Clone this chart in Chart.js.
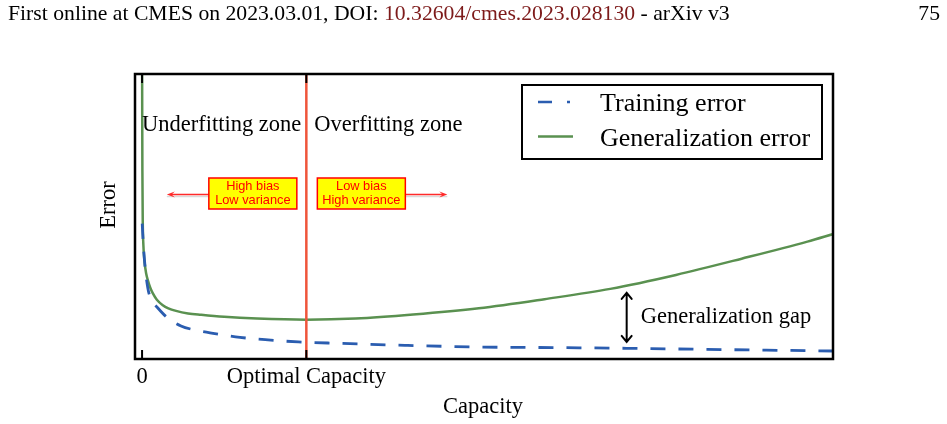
<!DOCTYPE html>
<html>
<head>
<meta charset="utf-8">
<script src="https://cdn.jsdelivr.net/npm/chart.js@4.4.0/dist/chart.umd.min.js"></script>
<style>
  html, body { margin: 0; padding: 0; background: #fff; }
  #wrap { position: relative; width: 947px; height: 424px; overflow: hidden; }
  #head { position: absolute; left: 8px; top: 1px; font: 21.7px 'Liberation Serif', serif; color: #000; white-space: nowrap; }
  #head .doi { color: #7d1a1a; }
  #page { position: absolute; right: 7px; top: 1px; font: 21.7px 'Liberation Serif', serif; color: #000; }
  canvas { position: absolute; left: 0; top: 0; }
</style>
</head>
<body>
<div id="wrap">
  <canvas id="myChart" width="947" height="424"></canvas>
  <div id="head">First online at CMES on 2023.03.01, DOI: <span class="doi">10.32604/cmes.2023.028130</span> - arXiv v3</div>
  <div id="page">75</div>
</div>
<script>
// values (capacity on x, error on y)
const genCap   = [0, 0.01, 0.02, 0.04, 0.08, 0.14, 0.25, 0.35, 0.5, 0.65, 0.9, 1.26, 1.6, 2.07, 2.8, 3.6, 5, 7, 10, 13, 16.5, 20.5, 24.5, 28.5, 32.5, 36.5, 40.5, 42.1];
const genErr   = [11, 8.5, 6.6, 4.9, 4.0, 3.47, 3.0, 2.77, 2.5, 2.31, 2.08, 1.89, 1.78, 1.69, 1.6, 1.55, 1.48, 1.42, 1.38, 1.42, 1.56, 1.78, 2.1, 2.46, 2.95, 3.52, 4.12, 4.39];
const trainCap = [0.01, 0.04, 0.14, 0.35, 0.6, 0.96, 1.56, 2.37, 3.18, 4.14, 5.96, 7.67, 9.51, 12, 16, 20.5, 25, 29.5, 34, 38, 42.1];
const trainErr = [4.75, 4.4, 3.51, 2.49, 2.05, 1.79, 1.44, 1.16, 1.02, 0.92, 0.76, 0.67, 0.60, 0.55, 0.48, 0.42, 0.4, 0.375, 0.34, 0.31, 0.28];
const tickCaps   = [0, 10];
const tickLabels = ['0', 'Optimal Capacity'];
const seriesNames = ['Training error', 'Generalization error'];

const optimalCapacity = tickCaps[1];
const serif = "'Liberation Serif', serif";

function toPoints(xs, ys) {
    return xs.map((v, i) => ({ x: v, y: ys[i] }));
}

function arrowHead(ctx, x, y, dir, len, half) {
    // dir: -1 left, 1 right
    ctx.beginPath();
    ctx.moveTo(x, y);
    ctx.lineTo(x - dir * len, y - half);
    ctx.lineTo(x - dir * len * 0.6, y);
    ctx.lineTo(x - dir * len, y + half);
    ctx.closePath();
    ctx.fill();
}

const decorations = {
    id: 'decorations',
    afterDatasetsDraw(chart) {
        const { ctx, chartArea: a, scales: { x, y } } = chart;
        const optPx = x.getPixelForValue(optimalCapacity);
        ctx.save();

        // optimal capacity line
        ctx.strokeStyle = '#ef553b';
        ctx.lineWidth = 2.5;
        ctx.beginPath();
        ctx.moveTo(optPx, a.top);
        ctx.lineTo(optPx, a.bottom);
        ctx.stroke();

        // inner ticks (top and bottom)
        ctx.strokeStyle = '#000';
        ctx.lineWidth = 2;
        tickCaps.forEach(c => {
            const px = x.getPixelForValue(c);
            ctx.beginPath();
            ctx.moveTo(px, a.bottom);
            ctx.lineTo(px, a.bottom - 9);
            ctx.moveTo(px, a.top);
            ctx.lineTo(px, a.top + 9);
            ctx.stroke();
        });

        // tick labels
        ctx.fillStyle = '#000';
        ctx.font = '22.5px ' + serif;
        ctx.textAlign = 'center';
        ctx.textBaseline = 'alphabetic';
        tickCaps.forEach((c, i) => {
            ctx.fillText(tickLabels[i], x.getPixelForValue(c), a.bottom + 24);
        });

        // axis titles
        ctx.fillText('Capacity', (a.left + a.right) / 2 - 1, a.bottom + 54);
        ctx.save();
        ctx.translate(a.left - 20, y.getPixelForValue(5.4));
        ctx.rotate(-Math.PI / 2);
        ctx.fillText('Error', 0, 0);
        ctx.restore();

        // zone labels
        ctx.textAlign = 'right';
        ctx.fillText('Underfitting zone', optPx - 5, a.top + 57);
        ctx.textAlign = 'left';
        ctx.fillText('Overfitting zone', optPx + 8, a.top + 57);

        // yellow boxes with arrows
        const boxTop = a.top + 104, boxH = 31, boxW = 88;
        const boxes = [
            { left: optPx - 9.5 - boxW, lines: ['High bias', 'Low variance'], dir: -1 },
            { left: optPx + 11, lines: ['Low bias', 'High variance'], dir: 1 }
        ];
        boxes.forEach(b => {
            const midY = boxTop + boxH / 2 + 1;
            const start = b.dir < 0 ? b.left : b.left + boxW;
            const tip = start + b.dir * 42;
            // soft shadow
            ctx.strokeStyle = 'rgba(0,0,0,0.15)';
            ctx.lineWidth = 1.5;
            ctx.beginPath();
            ctx.moveTo(start, midY + 2);
            ctx.lineTo(tip, midY + 2);
            ctx.stroke();
            ctx.strokeStyle = '#ff2a2a';
            ctx.fillStyle = '#ff2a2a';
            ctx.beginPath();
            ctx.moveTo(start, midY);
            ctx.lineTo(tip - b.dir * 4, midY);
            ctx.stroke();
            arrowHead(ctx, tip, midY, b.dir, 8, 3);

            ctx.fillStyle = '#ffff00';
            ctx.fillRect(b.left, boxTop, boxW, boxH);
            ctx.strokeStyle = '#ff0000';
            ctx.lineWidth = 1.5;
            ctx.strokeRect(b.left, boxTop, boxW, boxH);
            ctx.fillStyle = '#ff0000';
            ctx.font = "12.8px 'Liberation Sans', Arial, sans-serif";
            ctx.textAlign = 'center';
            ctx.textBaseline = 'middle';
            ctx.fillText(b.lines[0], b.left + boxW / 2, boxTop + 8.5);
            ctx.fillText(b.lines[1], b.left + boxW / 2, boxTop + 22.5);
        });

        // generalization gap arrow
        const gx = x.getPixelForValue(29.5);
        const gTop = y.getPixelForValue(2.32), gBot = y.getPixelForValue(0.6);
        ctx.strokeStyle = '#000';
        ctx.lineWidth = 2;
        ctx.lineCap = 'round';
        ctx.beginPath();
        ctx.moveTo(gx, gTop);
        ctx.lineTo(gx, gBot);
        ctx.moveTo(gx - 5, gTop + 6);
        ctx.lineTo(gx, gTop);
        ctx.lineTo(gx + 5, gTop + 6);
        ctx.moveTo(gx - 5, gBot - 6);
        ctx.lineTo(gx, gBot);
        ctx.lineTo(gx + 5, gBot - 6);
        ctx.stroke();
        ctx.fillStyle = '#000';
        ctx.font = '22.5px ' + serif;
        ctx.textAlign = 'left';
        ctx.textBaseline = 'alphabetic';
        ctx.fillText('Generalization gap', gx + 14, (gTop + gBot) / 2 + 6);

        // legend
        const lx = a.right - 311, ly = a.top + 11, lw = 300, lh = 74;
        ctx.fillStyle = '#fff';
        ctx.fillRect(lx, ly, lw, lh);
        ctx.strokeStyle = '#000';
        ctx.lineWidth = 2;
        ctx.lineCap = 'butt';
        ctx.strokeRect(lx, ly, lw, lh);
        chart.data.datasets.forEach((ds, i) => {
            const rowY = ly + (i === 0 ? 17 : 51.5);
            ctx.strokeStyle = ds.borderColor;
            ctx.lineWidth = 2.5;
            ctx.setLineDash(i === 0 ? [14, 15, 3, 100] : []);
            ctx.beginPath();
            ctx.moveTo(lx + 16, rowY);
            ctx.lineTo(lx + 51, rowY);
            ctx.stroke();
            ctx.setLineDash([]);
            ctx.fillStyle = '#000';
            ctx.font = '26px ' + serif;
            ctx.fillText(ds.label, lx + 78, rowY + 9);
        });

        // frame
        ctx.strokeStyle = '#000';
        ctx.lineWidth = 2.5;
        ctx.strokeRect(a.left, a.top, a.right - a.left, a.bottom - a.top);
        ctx.restore();
    }
};

const chartData = {
    datasets: [
        {
            label: seriesNames[0],
            data: toPoints(trainCap, trainErr),
            borderColor: '#2b5db0',
            borderWidth: 2.8,
            borderDash: [15, 13],
            pointRadius: 0,
            cubicInterpolationMode: 'monotone',
            fill: false
        },
        {
            label: seriesNames[1],
            data: toPoints(genCap, genErr),
            borderColor: '#5a9150',
            borderWidth: 2.5,
            pointRadius: 0,
            cubicInterpolationMode: 'monotone',
            fill: false
        }
    ]
};

const config = {
    type: 'line',
    data: chartData,
    options: {
        responsive: false,
        animation: false,
        events: [],
        layout: { padding: { left: 135, top: 74, right: 114, bottom: 65 } },
        scales: {
            x: { type: 'linear', min: -0.43, max: 42.06, display: false },
            y: { type: 'linear', min: 0, max: 10, display: false }
        },
        plugins: {
            legend: { display: false },
            tooltip: { enabled: false }
        }
    },
    plugins: [decorations]
};

const ctx = document.getElementById('myChart').getContext('2d');
new Chart(ctx, config);
</script>
</body>
</html>
